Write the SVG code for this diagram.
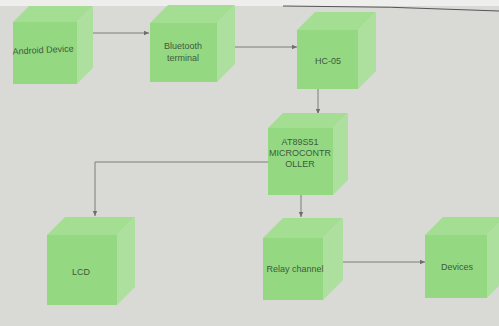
<svg xmlns="http://www.w3.org/2000/svg" width="499" height="326" viewBox="0 0 499 326">
<defs>
<style>
.front{fill:#94d982}
.top{fill:#a3de93}
.side{fill:#addf9f}
.lbl{font-family:"Liberation Sans",Arial,sans-serif;font-size:9px;fill:#3f5a3c;text-anchor:middle}
.con{stroke:#7a7f7a;stroke-width:1;fill:none}
</style>
<marker id="ah" markerWidth="6" markerHeight="6" refX="5" refY="3" orient="auto" markerUnits="userSpaceOnUse">
<path d="M0,0.8 L5,3 L0,5.2 Z" fill="#6c706c"/>
</marker>
</defs>
<rect width="499" height="326" fill="#d9d9d6"/>
<rect width="499" height="6" fill="#eeeeec"/>
<path d="M283,6 Q390,6 499,11" stroke="#555" stroke-width="1" fill="none"/>
<g id="connectors">
<line class="con" x1="93" y1="33" x2="149" y2="33" marker-end="url(#ah)"/>
<line class="con" x1="235" y1="47" x2="297" y2="47" marker-end="url(#ah)"/>
<line class="con" x1="318" y1="89" x2="318" y2="114" marker-end="url(#ah)"/>
<polyline class="con" points="268,162 95,162 95,216" marker-end="url(#ah)"/>
<line class="con" x1="301" y1="195" x2="301" y2="217" marker-end="url(#ah)"/>
<line class="con" x1="343" y1="262" x2="425" y2="262" marker-end="url(#ah)"/>
</g>
<g id="android">
<polygon class="top" points="13,22 29,6 93,6 77,22"/>
<polygon class="side" points="77,22 93,6 93,68 77,84"/>
<rect class="front" x="13" y="22" width="64" height="62"/>
<text class="lbl" x="43" y="53" transform="rotate(-3 43 50)">Android Device</text>
</g>
<g id="bluetooth">
<polygon class="top" points="150,23 168,5 235,5 217,23"/>
<polygon class="side" points="217,23 235,5 235,64 217,82"/>
<rect class="front" x="150" y="23" width="67" height="59"/>
<text class="lbl" x="183" y="49">Bluetooth</text>
<text class="lbl" x="183" y="61">terminal</text>
</g>
<g id="hc05">
<polygon class="top" points="297,30 315,12 376,12 358,30"/>
<polygon class="side" points="358,30 376,12 376,71 358,89"/>
<rect class="front" x="297" y="30" width="61" height="59"/>
<text class="lbl" x="328" y="64">HC-05</text>
</g>
<g id="at89s51">
<polygon class="top" points="268,128 283,113 348,113 333,128"/>
<polygon class="side" points="333,128 348,113 348,180 333,195"/>
<rect class="front" x="268" y="128" width="65" height="67"/>
<text class="lbl" x="300" y="145">AT89S51</text>
<text class="lbl" x="300" y="156">MICROCONTR</text>
<text class="lbl" x="300" y="167">OLLER</text>
</g>
<g id="lcd">
<polygon class="top" points="47,235 65,217 135,217 117,235"/>
<polygon class="side" points="117,235 135,217 135,287 117,305"/>
<rect class="front" x="47" y="235" width="70" height="70"/>
<text class="lbl" x="81" y="275">LCD</text>
</g>
<g id="relay">
<polygon class="top" points="263,238 283,218 343,218 323,238"/>
<polygon class="side" points="323,238 343,218 343,280 323,300"/>
<rect class="front" x="263" y="238" width="60" height="62"/>
<text class="lbl" x="295" y="272">Relay channel</text>
</g>
<g id="devices">
<polygon class="top" points="425,235 443,217 505,217 487,235"/>
<polygon class="side" points="487,235 505,217 505,280 487,298"/>
<rect class="front" x="425" y="235" width="62" height="63"/>
<text class="lbl" x="457" y="270">Devices</text>
</g>
</svg>
